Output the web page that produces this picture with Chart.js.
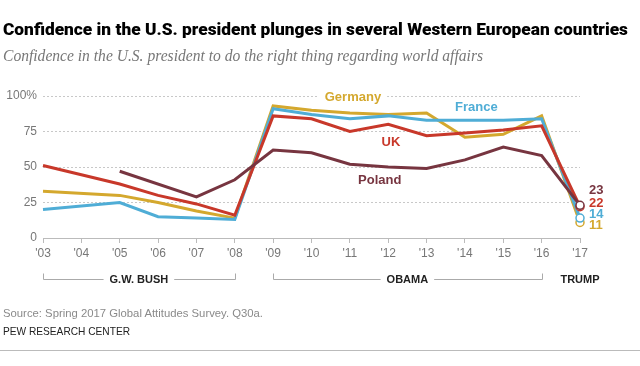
<!DOCTYPE html>
<html>
<head>
<meta charset="utf-8">
<script src="https://cdn.jsdelivr.net/npm/chart.js@4"></script>
<style>
  html,body{margin:0;padding:0;background:#fff;}
  #wrap{position:relative;width:640px;height:366px;overflow:hidden;}
  canvas{position:absolute;left:0;top:0;}
  .txt{position:absolute;white-space:nowrap;transform-origin:0 0;}
  #title{left:3px;top:19px;font:900 17px Roboto,"Liberation Sans",Arial,sans-serif;color:#000;}
  #sub{left:3px;top:47px;font:italic 16px "Liberation Serif","DejaVu Serif",serif;color:#777;}
  #src{left:3px;top:307px;font:11px "Liberation Sans",Arial,sans-serif;color:#8a8a8a;}
  #pew{left:3px;top:325px;font:11px "Liberation Sans",Arial,sans-serif;color:#222;}
  #rule{position:absolute;left:0;top:350px;width:640px;height:1px;background:#bbb;}
</style>
</head>
<body>
<div id="wrap">
  <canvas id="c" width="640" height="366"></canvas>
  <div class="txt" id="title" data-w="625">Confidence in the U.S. president plunges in several Western European countries</div>
  <div class="txt" id="sub" data-w="480">Confidence in the U.S. president to do the right thing regarding world affairs</div>
  <div class="txt" id="src" data-w="260">Source: Spring 2017 Global Attitudes Survey. Q30a.</div>
  <div class="txt" id="pew" data-w="127">PEW RESEARCH CENTER</div>
  <div id="rule"></div>
</div>
<script>
const years = ["'03","'04","'05","'06","'07","'08","'09","'10","'11","'12","'13","'14","'15","'16","'17"];
const germany = [33,null,30,25,19,14,93,90,88,87,88,71,73,86,11];
const france  = [20,null,25,15,14,13,91,87,84,86,83,83,83,84,14];
const uk      = [51,null,38,30,24,16,86,84,75,80,72,74,76,79,22];
const poland  = [null,null,47,null,29,41,62,60,52,50,49,55,64,58,23];
const yTicks = [0,25,50,75,100];
const presidents = [
  {name:"G.W. BUSH", from:"'03", to:"'08"},
  {name:"OBAMA", from:"'09", to:"'16"},
  {name:"TRUMP", from:"'17", to:"'17"}
];

const colors = {germany:"#d4a82e", france:"#4fadd6", uk:"#c8382a", poland:"#773540"};

document.querySelectorAll('.txt').forEach(el=>{
  const w = el.getBoundingClientRect().width;
  const t = +el.dataset.w;
  el.style.transform = 'scaleX(' + (t/w) + ')';
});

function ds(label, data, color, order){
  return {
    label, data, borderColor: color, backgroundColor: color,
    borderWidth: 3, spanGaps: true, tension: 0, order,
    pointRadius: c => c.dataIndex === data.length-1 ? 4 : 0,
    pointBackgroundColor: '#fff', pointBorderColor: color, pointBorderWidth: 1.5,
    pointHoverRadius: 0, clip: false
  };
}

const annot = {
  id: 'annot',
  afterDraw(chart){
    const ctx = chart.ctx, x = chart.scales.x, y = chart.scales.y;
    ctx.save();
    const lab = [
      {t:"Germany", xi:8.08, v:99.3, c:colors.germany, bg:true},
      {t:"France", xi:11.3, v:92, c:colors.france},
      {t:"UK", xi:9.07, v:67.6, c:colors.uk},
      {t:"Poland", xi:8.78, v:40.8, c:colors.poland}
    ];
    ctx.font = 'bold 13px "Liberation Sans", Arial, sans-serif';
    ctx.textAlign = 'center'; ctx.textBaseline = 'middle';
    lab.forEach(l=>{
      const px = x.left + l.xi*(x.right-x.left)/(years.length-1);
      const py = y.getPixelForValue(l.v);
      if(l.bg){
        const w = ctx.measureText(l.t).width;
        ctx.fillStyle = '#fff';
        ctx.fillRect(px - w/2 - 6, py - 8, w + 12, 16);
      }
      ctx.fillStyle = l.c;
      ctx.fillText(l.t, px, py);
    });
    const last = years.length-1;
    const ends = [
      {d:poland, c:colors.poland, v:33.8},
      {d:uk, c:colors.uk, v:24.6},
      {d:france, c:colors.france, v:16.9},
      {d:germany, c:colors.germany, v:9.2}
    ];
    ctx.textAlign = 'left';
    ends.forEach(e=>{
      ctx.fillStyle = e.c;
      ctx.fillText(String(e.d[last]), x.getPixelForValue(last) + 9, y.getPixelForValue(e.v));
    });
    ctx.font = 'bold 11px "Liberation Sans", Arial, sans-serif';
    ctx.textAlign = 'center';
    ctx.strokeStyle = '#aaa'; ctx.lineWidth = 1;
    const by = 279.5, bt = 273.5;
    presidents.forEach(p=>{
      const x0 = x.getPixelForValue(years.indexOf(p.from));
      const x1 = x.getPixelForValue(years.indexOf(p.to));
      const cx = (x0+x1)/2;
      const tw = ctx.measureText(p.name).width;
      ctx.fillStyle = '#222';
      ctx.fillText(p.name, cx, by);
      if(x1 > x0){
        ctx.beginPath();
        ctx.moveTo(Math.round(x0)+0.5, bt); ctx.lineTo(Math.round(x0)+0.5, by); ctx.lineTo(cx - tw/2 - 6, by);
        ctx.moveTo(cx + tw/2 + 6, by); ctx.lineTo(Math.round(x1)+0.5, by); ctx.lineTo(Math.round(x1)+0.5, bt);
        ctx.stroke();
      }
    });
    ctx.restore();
  }
};

new Chart(document.getElementById('c'), {
  type: 'line',
  data: {
    labels: years,
    datasets: [
      ds('Poland', poland, colors.poland, 1),
      ds('UK', uk, colors.uk, 2),
      ds('France', france, colors.france, 3),
      ds('Germany', germany, colors.germany, 4)
    ]
  },
  options: {
    responsive: false, animation: false,
    layout: {padding: {left: 0, right: 60, top: 96, bottom: 0}},
    plugins: {legend: {display: false}, tooltip: {enabled: false}},
    scales: {
      x: {
        offset: false,
        grid: {drawOnChartArea: false, drawTicks: true, tickLength: 5, color: '#bbb'},
        border: {color: '#bbb', width: 1},
        ticks: {color: '#777', font: {size: 12, family: '"Liberation Sans", Arial, sans-serif'}, padding: 3, maxRotation: 0, autoSkip: false},
        afterFit: s => { s.height = 128; }
      },
      y: {
        min: 0, max: 100,
        afterBuildTicks: s => { s.ticks = yTicks.map(v => ({value: v})); },
        grid: {
          drawTicks: false,
          color: c => c.tick.value === 0 ? 'rgba(0,0,0,0)' : '#c8c8c8',
          lineWidth: 1
        },
        border: {display: false, dash: [2,2]},
        ticks: {
          color: '#777', padding: 6,
          font: {size: 12, family: '"Liberation Sans", Arial, sans-serif'},
          callback: v => v === 100 ? '100%' : String(v)
        },
        afterFit: s => { s.width = 43; }
      }
    }
  },
  plugins: [annot]
});
</script>
</body>
</html>
